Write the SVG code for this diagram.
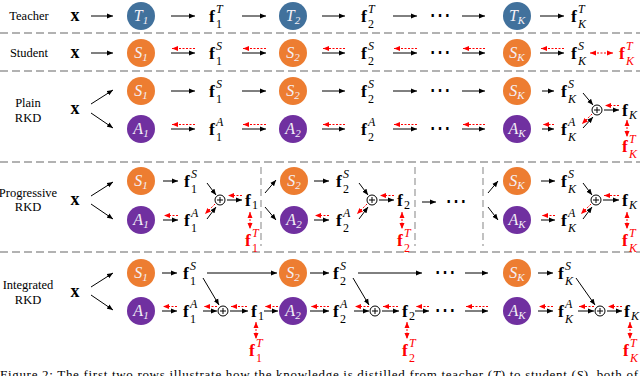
<svg xmlns="http://www.w3.org/2000/svg" width="640" height="376" viewBox="0 0 640 376" font-family="'Liberation Serif', 'Times New Roman', serif">
<style>
text, tspan{font-family:'Liberation Serif','Times New Roman',serif;}
.lab{font-size:12.5px;text-anchor:middle;fill:#000;}
.x{font-size:18px;font-weight:bold;text-anchor:middle;}
.fb{font-size:17.5px;font-weight:bold;}
.sp{font-size:12px;font-style:italic;}
.sb{font-size:12px;}
.it{font-style:italic;}
.red{fill:#f00;}
.cl{font-size:16px;font-style:italic;fill:#f4f0f6;text-anchor:middle;}
.cs{font-size:11px;}
.t{fill:#41719C;}
.s{fill:#ED7D31;}
.a{fill:#7030A0;}
.ln{stroke:#000;stroke-width:1;fill:none;marker-end:url(#ah);}
.rd{stroke:#f00;stroke-width:1;fill:none;stroke-dasharray:2 1.5;marker-end:url(#rh);}
.rd2{stroke:#f00;stroke-width:1;fill:none;stroke-dasharray:2 1.5;marker-end:url(#rh);marker-start:url(#rh);}
.sep{stroke:#999;stroke-width:1.5;stroke-dasharray:8 4;fill:none;}
.vsep{stroke:#999;stroke-width:1.2;stroke-dasharray:7 4;fill:none;}
.op{fill:#fff;stroke:#000;stroke-width:1;}
.dots{font-size:22px;font-weight:normal;text-anchor:middle;}
</style>
<defs>
<marker id="ah" markerUnits="userSpaceOnUse" markerWidth="6" markerHeight="6" refX="6" refY="3" orient="auto"><path d="M0,0.5 L6,3 L0,5.5 z" fill="#000"/></marker>
<marker id="rh" markerUnits="userSpaceOnUse" markerWidth="6" markerHeight="6" refX="6" refY="3" orient="auto-start-reverse"><path d="M0,0.5 L6,3 L0,5.5 z" fill="#f00"/></marker>
</defs>

<g id="separators">
<line class="sep" x1="0" y1="33" x2="640" y2="33"/>
<line class="sep" x1="0" y1="71" x2="640" y2="71"/>
<line class="sep" x1="0" y1="162" x2="640" y2="162"/>
<line class="sep" x1="0" y1="252" x2="640" y2="252"/>
<line class="vsep" x1="261" y1="167" x2="261" y2="246"/>
<line class="vsep" x1="415" y1="167" x2="415" y2="246"/>
<line class="vsep" x1="483" y1="167" x2="483" y2="246"/>
</g>

<g id="row-labels">
<text class="lab" x="29" y="20">Teacher</text>
<text class="lab" x="29" y="57">Student</text>
<text class="lab" x="28" y="107">Plain</text>
<text class="lab" x="28" y="122">RKD</text>
<text class="lab" x="28" y="197">Progressive</text>
<text class="lab" x="28" y="211">RKD</text>
<text class="lab" x="28" y="289">Integrated</text>
<text class="lab" x="28" y="304">RKD</text>
</g>

<g id="inputs">
<text class="x" x="75" y="21">x</text>
<text class="x" x="75" y="58">x</text>
<text class="x" x="75" y="114">x</text>
<text class="x" x="75" y="205">x</text>
<text class="x" x="75" y="297">x</text>
</g>

<g id="T1"><circle class="t" cx="141" cy="16" r="14"/><text class="cl" x="141" y="21">T<tspan class="cs" dy="3">1</tspan></text></g>
<g id="T2"><circle class="t" cx="293" cy="16" r="14"/><text class="cl" x="293" y="21">T<tspan class="cs" dy="3">2</tspan></text></g>
<g id="TK"><circle class="t" cx="517" cy="16" r="14"/><text class="cl" x="517" y="21">T<tspan class="cs it" dy="3">K</tspan></text></g>
<g id="f1T"><text class="fb" x="209" y="22">f</text><text class="sp" x="216" y="13">T</text><text class="sb" x="216" y="28">1</text></g>
<g id="f2T"><text class="fb" x="361" y="22">f</text><text class="sp" x="368" y="13">T</text><text class="sb" x="368" y="28">2</text></g>
<text id="dotsT" class="dots" x="440" y="22">⋯</text>
<g id="fKT"><text class="fb" x="571" y="22">f</text><text class="sp" x="578" y="13">T</text><text class="sb it" x="578" y="28">K</text></g>

<g id="S1a"><circle class="s" cx="141" cy="53" r="14"/><text class="cl" x="141" y="58">S<tspan class="cs" dy="3">1</tspan></text></g>
<g id="S2a"><circle class="s" cx="293" cy="53" r="14"/><text class="cl" x="293" y="58">S<tspan class="cs" dy="3">2</tspan></text></g>
<g id="SKa"><circle class="s" cx="517" cy="53" r="14"/><text class="cl" x="517" y="58">S<tspan class="cs it" dy="3">K</tspan></text></g>
<g id="f1Sa"><text class="fb" x="209" y="59">f</text><text class="sp" x="216" y="50">S</text><text class="sb" x="216" y="65">1</text></g>
<g id="f2Sa"><text class="fb" x="361" y="59">f</text><text class="sp" x="368" y="50">S</text><text class="sb" x="368" y="65">2</text></g>
<text id="dotsS" class="dots" x="440" y="59">⋯</text>
<g id="fKSa"><text class="fb" x="571" y="59">f</text><text class="sp" x="578" y="50">S</text><text class="sb it" x="578" y="65">K</text></g>
<g id="fKTa"><text class="fb red" x="619" y="59">f</text><text class="sp red" x="626" y="50">T</text><text class="sb it red" x="626" y="65">K</text></g>

<g id="S1b"><circle class="s" cx="141" cy="91" r="14"/><text class="cl" x="141" y="96">S<tspan class="cs" dy="3">1</tspan></text></g>
<g id="S2b"><circle class="s" cx="293" cy="91" r="14"/><text class="cl" x="293" y="96">S<tspan class="cs" dy="3">2</tspan></text></g>
<g id="SKb"><circle class="s" cx="517" cy="91" r="14"/><text class="cl" x="517" y="96">S<tspan class="cs it" dy="3">K</tspan></text></g>
<g id="A1b"><circle class="a" cx="141" cy="129" r="14"/><text class="cl" x="141" y="134">A<tspan class="cs" dy="3">1</tspan></text></g>
<g id="A2b"><circle class="a" cx="293" cy="129" r="14"/><text class="cl" x="293" y="134">A<tspan class="cs" dy="3">2</tspan></text></g>
<g id="AKb"><circle class="a" cx="517" cy="129" r="14"/><text class="cl" x="517" y="134">A<tspan class="cs it" dy="3">K</tspan></text></g>
<g id="f1Sb"><text class="fb" x="209" y="97">f</text><text class="sp" x="216" y="88">S</text><text class="sb" x="216" y="103">1</text></g>
<g id="f2Sb"><text class="fb" x="361" y="97">f</text><text class="sp" x="368" y="88">S</text><text class="sb" x="368" y="103">2</text></g>
<g id="fKSb"><text class="fb" x="561" y="97">f</text><text class="sp" x="568" y="88">S</text><text class="sb it" x="568" y="103">K</text></g>
<g id="f1Ab"><text class="fb" x="209" y="135">f</text><text class="sp" x="216" y="126">A</text><text class="sb" x="216" y="141">1</text></g>
<g id="f2Ab"><text class="fb" x="361" y="135">f</text><text class="sp" x="368" y="126">A</text><text class="sb" x="368" y="141">2</text></g>
<g id="fKAb"><text class="fb" x="561" y="135">f</text><text class="sp" x="568" y="126">A</text><text class="sb it" x="568" y="141">K</text></g>
<text id="dotsPS" class="dots" x="440" y="97">⋯</text>
<text id="dotsPA" class="dots" x="440" y="135">⋯</text>
<g id="plusb"><circle class="op" cx="597" cy="110" r="5"/><path d="M594,110 H600 M597,107 V113" stroke="#000" stroke-width="1"/></g>
<g id="fKb"><text class="fb" x="622" y="116">f</text><text class="sb it" x="629" y="119">K</text></g>
<g id="fKTb"><text class="fb red" x="622" y="152">f</text><text class="sp red" x="629" y="143">T</text><text class="sb it red" x="629" y="158">K</text></g>

<g id="S1c"><circle class="s" cx="141" cy="181" r="14"/><text class="cl" x="141" y="186">S<tspan class="cs" dy="3">1</tspan></text></g>
<g id="A1c"><circle class="a" cx="141" cy="220" r="14"/><text class="cl" x="141" y="225">A<tspan class="cs" dy="3">1</tspan></text></g>
<g id="S2c"><circle class="s" cx="294" cy="181" r="14"/><text class="cl" x="294" y="186">S<tspan class="cs" dy="3">2</tspan></text></g>
<g id="A2c"><circle class="a" cx="294" cy="220" r="14"/><text class="cl" x="294" y="225">A<tspan class="cs" dy="3">2</tspan></text></g>
<g id="SKc"><circle class="s" cx="517" cy="181" r="14"/><text class="cl" x="517" y="186">S<tspan class="cs it" dy="3">K</tspan></text></g>
<g id="AKc"><circle class="a" cx="517" cy="220" r="14"/><text class="cl" x="517" y="225">A<tspan class="cs it" dy="3">K</tspan></text></g>
<g id="f1Sc"><text class="fb" x="184" y="187">f</text><text class="sp" x="191" y="178">S</text><text class="sb" x="191" y="193">1</text></g>
<g id="f1Ac"><text class="fb" x="184" y="226">f</text><text class="sp" x="191" y="217">A</text><text class="sb" x="191" y="232">1</text></g>
<g id="plus1c"><circle class="op" cx="220" cy="200" r="5"/><path d="M217,200 H223 M220,197 V203" stroke="#000" stroke-width="1"/></g>
<g id="f1c"><text class="fb" x="245" y="206">f</text><text class="sb" x="252" y="209">1</text></g>
<g id="f1Tc"><text class="fb red" x="245" y="246">f</text><text class="sp red" x="252" y="237">T</text><text class="sb red" x="252" y="252">1</text></g>
<g id="f2Sc"><text class="fb" x="336" y="187">f</text><text class="sp" x="343" y="178">S</text><text class="sb" x="343" y="193">2</text></g>
<g id="f2Ac"><text class="fb" x="336" y="226">f</text><text class="sp" x="343" y="217">A</text><text class="sb" x="343" y="232">2</text></g>
<g id="plus2c"><circle class="op" cx="372" cy="200" r="5"/><path d="M369,200 H375 M372,197 V203" stroke="#000" stroke-width="1"/></g>
<g id="f2c"><text class="fb" x="397" y="206">f</text><text class="sb" x="404" y="209">2</text></g>
<g id="f2Tc"><text class="fb red" x="397" y="246">f</text><text class="sp red" x="404" y="237">T</text><text class="sb red" x="404" y="252">2</text></g>
<text id="dotsC" class="dots" x="456" y="208">⋯</text>
<g id="fKSc"><text class="fb" x="561" y="187">f</text><text class="sp" x="568" y="178">S</text><text class="sb it" x="568" y="193">K</text></g>
<g id="fKAc"><text class="fb" x="561" y="226">f</text><text class="sp" x="568" y="217">A</text><text class="sb it" x="568" y="232">K</text></g>
<g id="plusKc"><circle class="op" cx="596" cy="200" r="5"/><path d="M593,200 H599 M596,197 V203" stroke="#000" stroke-width="1"/></g>
<g id="fKc"><text class="fb" x="622" y="206">f</text><text class="sb it" x="629" y="209">K</text></g>
<g id="fKTc"><text class="fb red" x="622" y="246">f</text><text class="sp red" x="629" y="237">T</text><text class="sb it red" x="629" y="252">K</text></g>

<g id="S1d"><circle class="s" cx="141" cy="273" r="14"/><text class="cl" x="141" y="278">S<tspan class="cs" dy="3">1</tspan></text></g>
<g id="A1d"><circle class="a" cx="141" cy="311" r="14"/><text class="cl" x="141" y="316">A<tspan class="cs" dy="3">1</tspan></text></g>
<g id="S2d"><circle class="s" cx="293" cy="273" r="14"/><text class="cl" x="293" y="278">S<tspan class="cs" dy="3">2</tspan></text></g>
<g id="A2d"><circle class="a" cx="293" cy="311" r="14"/><text class="cl" x="293" y="316">A<tspan class="cs" dy="3">2</tspan></text></g>
<g id="SKd"><circle class="s" cx="517" cy="273" r="14"/><text class="cl" x="517" y="278">S<tspan class="cs it" dy="3">K</tspan></text></g>
<g id="AKd"><circle class="a" cx="517" cy="311" r="14"/><text class="cl" x="517" y="316">A<tspan class="cs it" dy="3">K</tspan></text></g>
<g id="f1Sd"><text class="fb" x="183" y="279">f</text><text class="sp" x="190" y="270">S</text><text class="sb" x="190" y="285">1</text></g>
<g id="f1Ad"><text class="fb" x="183" y="317">f</text><text class="sp" x="190" y="308">A</text><text class="sb" x="190" y="323">1</text></g>
<g id="plus1d"><circle class="op" cx="223" cy="311" r="5"/><path d="M220,311 H226 M223,308 V314" stroke="#000" stroke-width="1"/></g>
<g id="f1d"><text class="fb" x="251" y="317">f</text><text class="sb" x="258" y="320">1</text></g>
<g id="f1Td"><text class="fb red" x="249" y="356">f</text><text class="sp red" x="256" y="347">T</text><text class="sb red" x="256" y="362">1</text></g>
<g id="f2Sd"><text class="fb" x="333" y="279">f</text><text class="sp" x="340" y="270">S</text><text class="sb" x="340" y="285">2</text></g>
<g id="f2Ad"><text class="fb" x="333" y="317">f</text><text class="sp" x="340" y="308">A</text><text class="sb" x="340" y="323">2</text></g>
<g id="plus2d"><circle class="op" cx="375" cy="311" r="5"/><path d="M372,311 H378 M375,308 V314" stroke="#000" stroke-width="1"/></g>
<g id="f2d"><text class="fb" x="402" y="317">f</text><text class="sb" x="409" y="320">2</text></g>
<g id="f2Td"><text class="fb red" x="402" y="356">f</text><text class="sp red" x="409" y="347">T</text><text class="sb red" x="409" y="362">2</text></g>
<text id="dotsDS" class="dots" x="445" y="279">⋯</text>
<text id="dotsDA" class="dots" x="445" y="317">⋯</text>
<g id="fKSd"><text class="fb" x="558" y="279">f</text><text class="sp" x="565" y="270">S</text><text class="sb it" x="565" y="285">K</text></g>
<g id="fKAd"><text class="fb" x="558" y="317">f</text><text class="sp" x="565" y="308">A</text><text class="sb it" x="565" y="323">K</text></g>
<g id="plusKd"><circle class="op" cx="600" cy="311" r="5"/><path d="M597,311 H603 M600,308 V314" stroke="#000" stroke-width="1"/></g>
<g id="fKd"><text class="fb" x="624" y="317">f</text><text class="sb it" x="631" y="320">K</text></g>
<g id="fKTd"><text class="fb red" x="623" y="356">f</text><text class="sp red" x="630" y="347">T</text><text class="sb it red" x="630" y="362">K</text></g>

<g id="connectors">
<line class="ln" x1="91" y1="16" x2="113" y2="16"/>
<line class="ln" x1="171" y1="16" x2="195" y2="16"/>
<line class="ln" x1="242" y1="16" x2="266" y2="16"/>
<line class="ln" x1="322" y1="16" x2="345" y2="16"/>
<line class="ln" x1="393" y1="16" x2="417" y2="16"/>
<line class="ln" x1="462" y1="16" x2="485" y2="16"/>
<line class="ln" x1="540" y1="16" x2="564" y2="16"/>
<line class="ln" x1="91" y1="53" x2="113" y2="53"/>
<line class="ln" x1="171" y1="53" x2="195" y2="53"/>
<line class="rd" x1="195" y1="48.5" x2="172" y2="48.5"/>
<line class="ln" x1="242" y1="53" x2="266" y2="53"/>
<line class="rd" x1="266" y1="48.5" x2="243" y2="48.5"/>
<line class="ln" x1="322" y1="53" x2="345" y2="53"/>
<line class="rd" x1="345" y1="48.5" x2="323" y2="48.5"/>
<line class="ln" x1="393" y1="53" x2="417" y2="53"/>
<line class="rd" x1="417" y1="48.5" x2="394" y2="48.5"/>
<line class="ln" x1="462" y1="53" x2="485" y2="53"/>
<line class="rd" x1="485" y1="48.5" x2="463" y2="48.5"/>
<line class="ln" x1="540" y1="53" x2="564" y2="53"/>
<line class="rd" x1="564" y1="48.5" x2="541" y2="48.5"/>
<line class="rd2" x1="590" y1="53" x2="613" y2="53"/>
<line class="ln" x1="91" y1="104" x2="113" y2="90"/>
<line class="ln" x1="91" y1="113" x2="113" y2="128"/>
<line class="ln" x1="171" y1="91" x2="195" y2="91"/>
<line class="ln" x1="242" y1="91" x2="266" y2="91"/>
<line class="ln" x1="322" y1="91" x2="345" y2="91"/>
<line class="ln" x1="393" y1="91" x2="417" y2="91"/>
<line class="ln" x1="462" y1="91" x2="485" y2="91"/>
<line class="ln" x1="542" y1="91" x2="554" y2="91"/>
<line class="ln" x1="171" y1="129" x2="195" y2="129"/>
<line class="rd" x1="195" y1="124.5" x2="172" y2="124.5"/>
<line class="ln" x1="242" y1="129" x2="266" y2="129"/>
<line class="rd" x1="266" y1="124.5" x2="243" y2="124.5"/>
<line class="ln" x1="322" y1="129" x2="345" y2="129"/>
<line class="rd" x1="345" y1="124.5" x2="323" y2="124.5"/>
<line class="ln" x1="393" y1="129" x2="417" y2="129"/>
<line class="rd" x1="417" y1="124.5" x2="394" y2="124.5"/>
<line class="ln" x1="462" y1="129" x2="485" y2="129"/>
<line class="rd" x1="485" y1="124.5" x2="463" y2="124.5"/>
<line class="ln" x1="542" y1="129" x2="554" y2="129"/>
<line class="rd" x1="554" y1="124.5" x2="543" y2="124.5"/>
<line class="ln" x1="583" y1="93" x2="593" y2="105"/>
<line class="ln" x1="583" y1="128" x2="593" y2="117"/>
<line class="rd" x1="592" y1="114" x2="582" y2="124"/>
<line class="ln" x1="604" y1="110" x2="619" y2="110"/>
<line class="rd" x1="619" y1="105.5" x2="605" y2="105.5"/>
<line class="rd2" x1="627" y1="120" x2="627" y2="137"/>
<line class="ln" x1="91" y1="196" x2="113" y2="182"/>
<line class="ln" x1="91" y1="204" x2="113" y2="219"/>
<line class="ln" x1="163" y1="181" x2="178" y2="181"/>
<line class="ln" x1="163" y1="220" x2="178" y2="220"/>
<line class="rd" x1="178" y1="215.5" x2="164" y2="215.5"/>
<line class="ln" x1="207" y1="183" x2="216" y2="195"/>
<line class="ln" x1="207" y1="219" x2="216" y2="207"/>
<line class="rd" x1="215" y1="204" x2="205" y2="214"/>
<line class="ln" x1="227" y1="200" x2="242" y2="200"/>
<line class="rd" x1="242" y1="195.5" x2="228" y2="195.5"/>
<line class="rd2" x1="250" y1="212" x2="250" y2="229"/>
<line class="ln" x1="265" y1="193" x2="276" y2="180"/>
<line class="ln" x1="265" y1="207" x2="276" y2="220"/>
<line class="ln" x1="314" y1="181" x2="329" y2="181"/>
<line class="ln" x1="314" y1="220" x2="329" y2="220"/>
<line class="rd" x1="329" y1="215.5" x2="315" y2="215.5"/>
<line class="ln" x1="359" y1="183" x2="368" y2="195"/>
<line class="ln" x1="359" y1="219" x2="368" y2="207"/>
<line class="rd" x1="367" y1="204" x2="357" y2="214"/>
<line class="ln" x1="379" y1="200" x2="394" y2="200"/>
<line class="rd" x1="394" y1="195.5" x2="380" y2="195.5"/>
<line class="rd2" x1="402" y1="212" x2="402" y2="229"/>
<line class="ln" x1="422" y1="202" x2="436" y2="202"/>
<line class="ln" x1="488" y1="193" x2="498" y2="181"/>
<line class="ln" x1="488" y1="207" x2="498" y2="220"/>
<line class="ln" x1="541" y1="181" x2="555" y2="181"/>
<line class="ln" x1="541" y1="220" x2="555" y2="220"/>
<line class="rd" x1="555" y1="215.5" x2="542" y2="215.5"/>
<line class="ln" x1="583" y1="183" x2="592" y2="195"/>
<line class="ln" x1="583" y1="219" x2="592" y2="207"/>
<line class="rd" x1="591" y1="204" x2="581" y2="214"/>
<line class="ln" x1="603" y1="200" x2="619" y2="200"/>
<line class="rd" x1="619" y1="195.5" x2="604" y2="195.5"/>
<line class="rd2" x1="627" y1="212" x2="627" y2="229"/>
<line class="ln" x1="91" y1="287" x2="113" y2="273"/>
<line class="ln" x1="91" y1="295" x2="113" y2="310"/>
<line class="ln" x1="162" y1="273" x2="177" y2="273"/>
<line class="ln" x1="207" y1="273" x2="277" y2="273"/>
<line class="ln" x1="203" y1="278" x2="219" y2="305"/>
<line class="ln" x1="162" y1="311" x2="177" y2="311"/>
<line class="rd" x1="177" y1="306.5" x2="163" y2="306.5"/>
<line class="ln" x1="203" y1="311" x2="217" y2="311"/>
<line class="rd" x1="217" y1="306.5" x2="204" y2="306.5"/>
<line class="ln" x1="230" y1="311" x2="248" y2="311"/>
<line class="rd" x1="247" y1="306.5" x2="231" y2="306.5"/>
<line class="ln" x1="264" y1="311" x2="278" y2="311"/>
<line class="rd" x1="278" y1="306.5" x2="265" y2="306.5"/>
<line class="rd2" x1="256" y1="322" x2="256" y2="339"/>
<line class="ln" x1="310" y1="273" x2="329" y2="273"/>
<line class="ln" x1="358" y1="273" x2="422" y2="273"/>
<line class="ln" x1="465" y1="273" x2="488" y2="273"/>
<line class="ln" x1="538" y1="273" x2="553" y2="273"/>
<line class="ln" x1="353" y1="278" x2="369" y2="305"/>
<line class="ln" x1="576" y1="278" x2="595" y2="305"/>
<line class="ln" x1="310" y1="311" x2="329" y2="311"/>
<line class="rd" x1="329" y1="306.5" x2="311" y2="306.5"/>
<line class="ln" x1="354" y1="311" x2="369" y2="311"/>
<line class="rd" x1="369" y1="306.5" x2="355" y2="306.5"/>
<line class="ln" x1="382" y1="311" x2="399" y2="311"/>
<line class="rd" x1="398" y1="306.5" x2="383" y2="306.5"/>
<line class="ln" x1="415" y1="311" x2="429" y2="311"/>
<line class="rd" x1="429" y1="306.5" x2="416" y2="306.5"/>
<line class="ln" x1="465" y1="311" x2="488" y2="311"/>
<line class="rd" x1="488" y1="306.5" x2="466" y2="306.5"/>
<line class="ln" x1="538" y1="311" x2="553" y2="311"/>
<line class="rd" x1="553" y1="306.5" x2="539" y2="306.5"/>
<line class="ln" x1="578" y1="311" x2="594" y2="311"/>
<line class="rd" x1="594" y1="306.5" x2="579" y2="306.5"/>
<line class="ln" x1="607" y1="311" x2="622" y2="311"/>
<line class="rd" x1="622" y1="306.5" x2="608" y2="306.5"/>
<line class="rd2" x1="407" y1="322" x2="407" y2="339"/>
<line class="rd2" x1="630" y1="322" x2="630" y2="339"/>
</g>

<text id="caption" x="0" y="379" font-size="13" textLength="638" lengthAdjust="spacing">Figure 2: The first two rows illustrate how the knowledge is distilled from teacher (<tspan class="it">T</tspan>) to student (<tspan class="it">S</tspan>), both of</text>
</svg>
